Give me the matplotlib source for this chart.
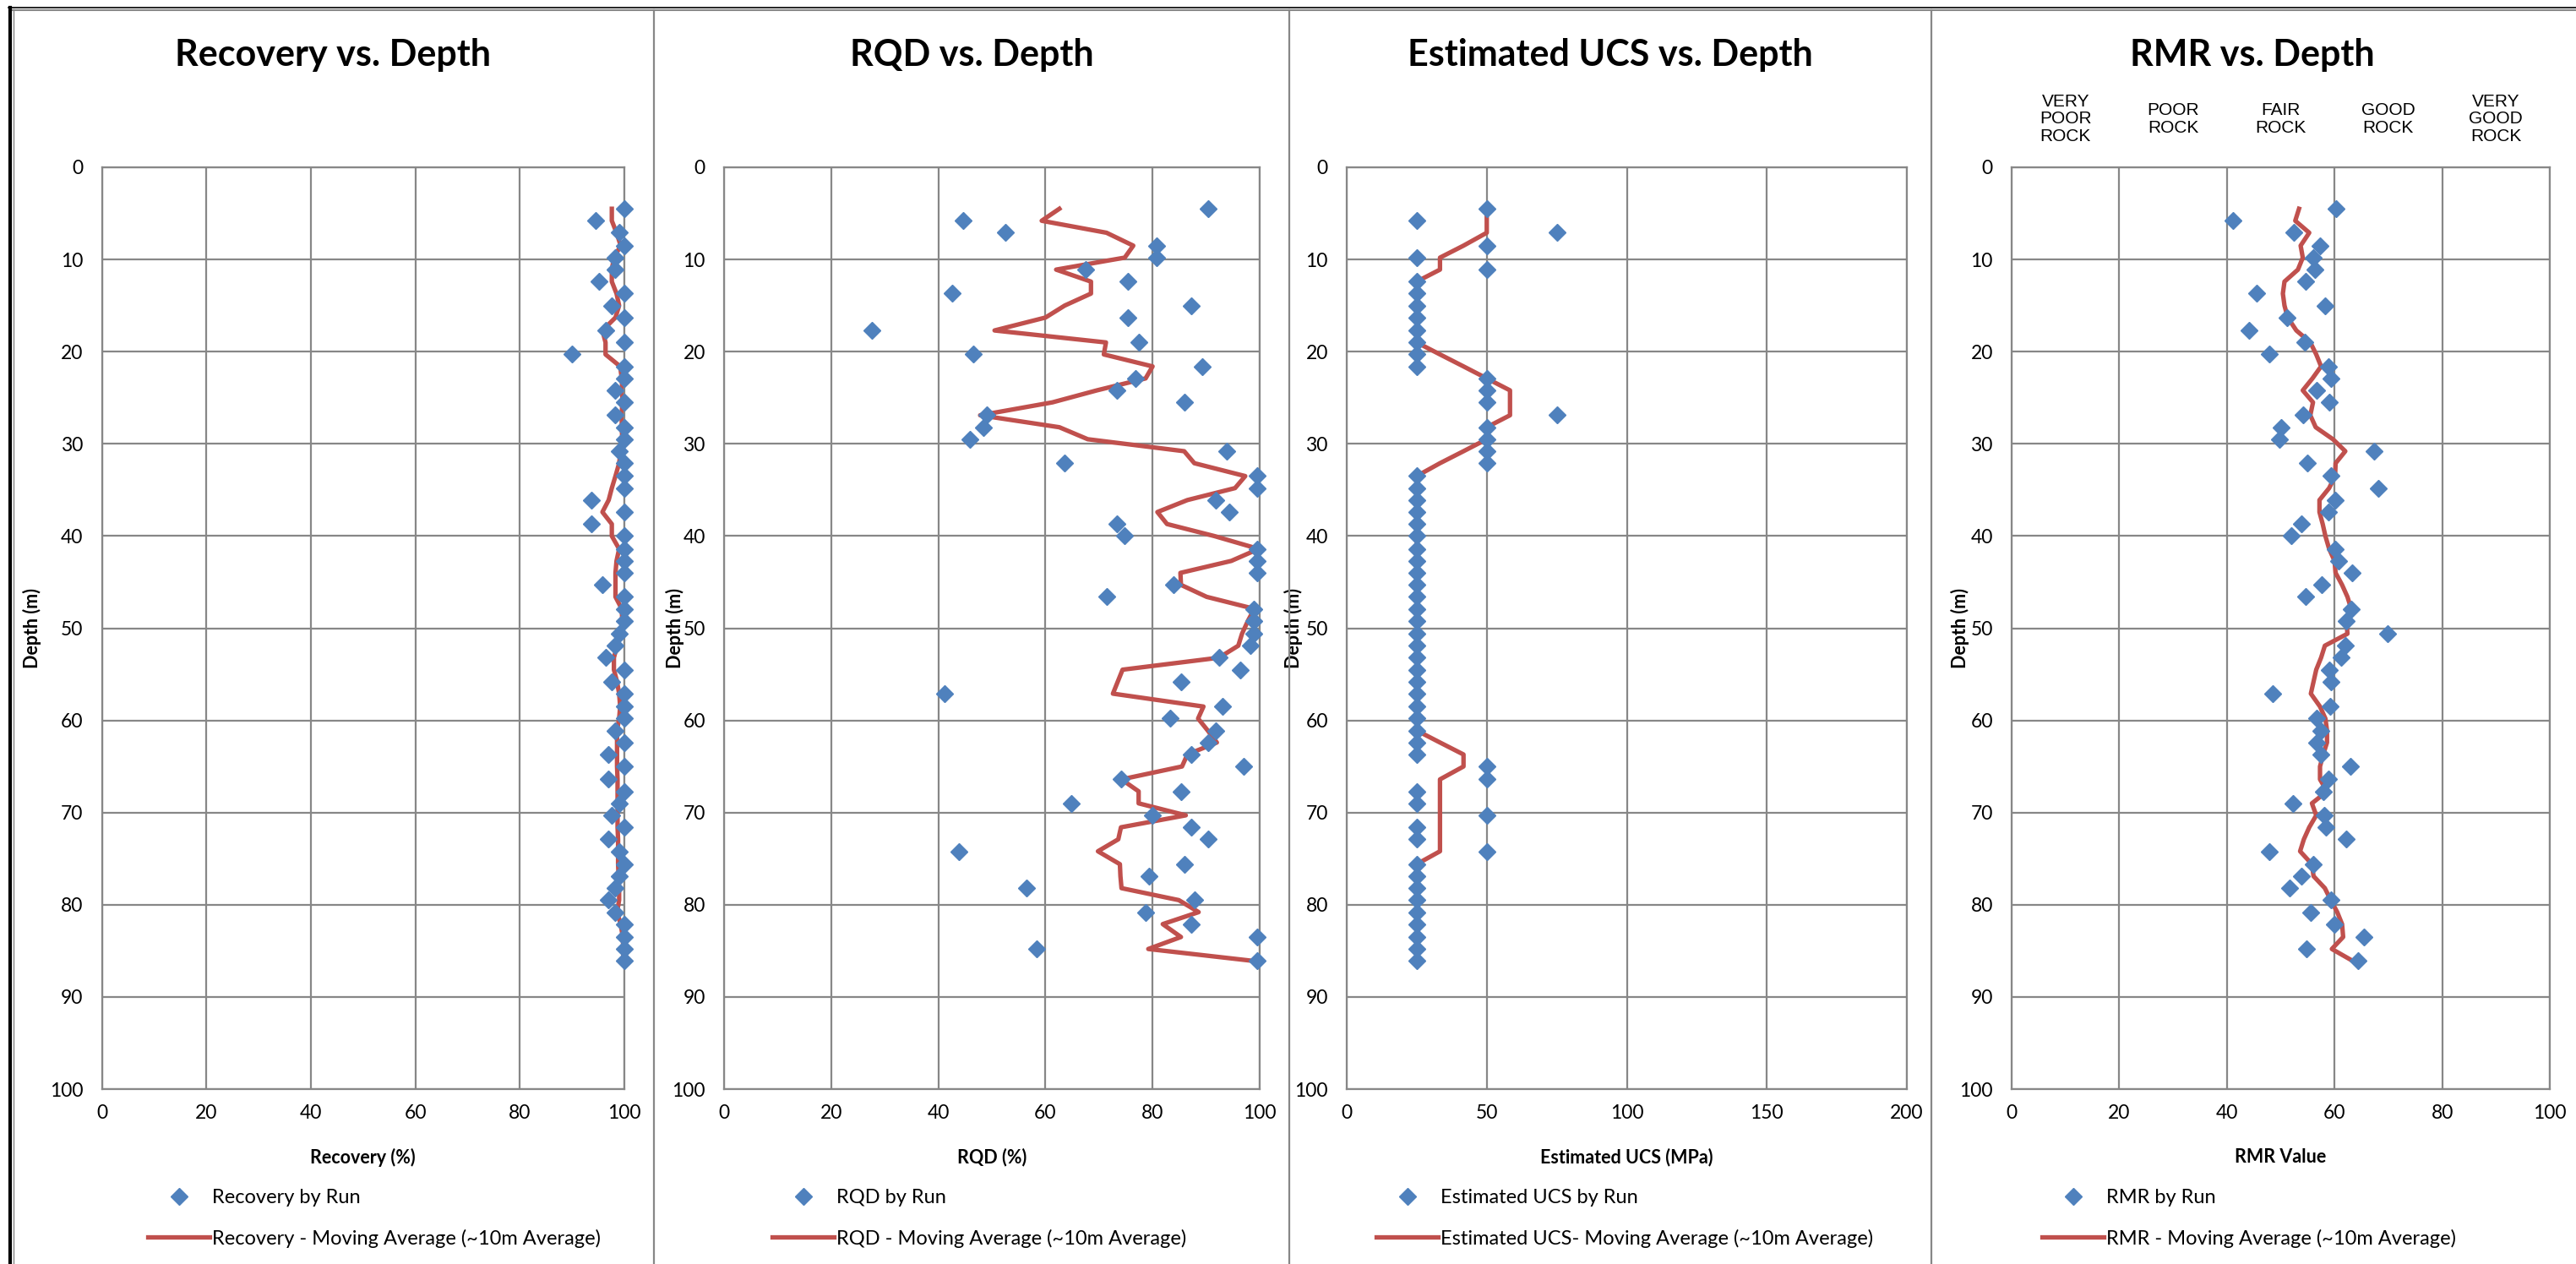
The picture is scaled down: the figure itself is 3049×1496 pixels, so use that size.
import matplotlib.pyplot as plt
from matplotlib.lines import Line2D

# depth of each core run (m)
depth = [4.5, 5.8, 7.1, 8.5, 9.8, 11.1, 12.4, 13.7, 15.0, 16.3, 17.7, 19.0, 20.3,
         21.6, 22.9, 24.2, 25.5, 26.9, 28.2, 29.5, 30.8, 32.1, 33.5, 34.8, 36.1,
         37.4, 38.7, 40.0, 41.4, 42.7, 44.0, 45.3, 46.6, 47.9, 49.2, 50.6, 51.9,
         53.2, 54.5, 55.8, 57.1, 58.5, 59.8, 61.1, 62.4, 63.7, 65.0, 66.4, 67.7,
         69.0, 70.3, 71.6, 72.9, 74.2, 75.6, 76.9, 78.2, 79.5, 80.8, 82.1, 83.5,
         84.8, 86.1]

recovery = [100, 94.5, 99, 100, 98.3, 98.3, 95.2, 100, 97.6, 100, 96.4, 100, 90,
            100, 100, 98.3, 100, 98.3, 100, 100, 99, 100, 100, 100, 93.7, 100, 93.7,
            100, 100, 100, 100, 95.8, 100, 100, 100, 99, 98.3, 96.4, 100, 97.6, 100,
            100, 100, 98.3, 100, 97, 100, 97, 100, 99, 97.6, 100, 97, 99, 100, 99,
            98.3, 97, 98.3, 100, 100, 100, 100]
recovery_ma = [97.6, 97.6, 98.5, 99.3, 98.0, 97.6, 97.6, 98.5, 99.0, 98.3, 95.8, 96.4,
               96.4, 99.2, 99.5, 99.6, 99.6, 99.5, 99.5, 99.6, 99.3, 99.0, 98.3, 97.6,
               97.0, 95.8, 97.6, 97.6, 99.0, 98.5, 98.3, 98.3, 98.3, 99.5, 99.6, 99.2,
               98.6, 98.0, 98.0, 98.6, 99.0, 99.2, 99.0, 98.6, 98.6, 98.6, 98.6, 98.7,
               98.7, 98.7, 98.7, 98.7, 98.8, 98.8, 98.8, 98.9, 99.0, 99.0, 98.6, 99.3,
               99.7, 99.8, 99.8]

rqd = [90.4, 44.6, 52.5, 80.7, 80.7, 67.5, 75.4, 42.6, 87.3, 75.4, 27.6, 77.4, 46.5,
       89.2, 76.8, 73.4, 85.9, 49.1, 48.5, 45.9, 93.8, 63.6, 99.6, 99.6, 91.8, 94.4,
       73.4, 74.8, 99.6, 99.6, 99.6, 83.9, 71.4, 98.9, 98.9, 98.9, 98.3, 92.4, 96.3,
       85.3, 41.2, 93.1, 83.3, 91.8, 90.4, 87.2, 97.0, 74.1, 85.3, 64.9, 80.0, 87.2,
       90.4, 43.9, 85.9, 79.3, 56.4, 87.8, 78.7, 87.2, 99.6, 58.3, 99.6]
rqd_ma = [62.6, 59.3, 71.4, 76.4, 74.8, 62.0, 68.5, 68.5, 63.6, 60.0, 50.5, 71.3, 70.9,
          80.0, 78.7, 69.6, 61.3, 47.8, 62.6, 67.9, 85.9, 87.8, 97.3, 95.4, 86.5, 80.9,
          82.7, 91.5, 99.8, 94.7, 85.2, 85.3, 90.1, 99.0, 97.8, 96.7, 96.0, 92.4, 74.4,
          73.5, 72.6, 89.5, 88.5, 90.3, 92.0, 86.5, 85.5, 74.2, 77.4, 77.4, 86.2, 74.1,
          73.6, 69.8, 73.9, 74.0, 74.2, 84.9, 88.6, 81.9, 85.3, 79.2, 98.9]

ucs = [50, 25, 75, 50, 25, 50, 25, 25, 25, 25, 25, 25, 25, 25, 50, 50, 50, 75, 50, 50,
       50, 50, 25, 25, 25, 25, 25, 25, 25, 25, 25, 25, 25, 25, 25, 25, 25, 25, 25, 25,
       25, 25, 25, 25, 25, 25, 50, 50, 25, 25, 50, 25, 25, 50, 25, 25, 25, 25, 25, 25,
       25, 25, 25]
ucs_ma = [50, 50, 50, 41.7, 33.3, 33.3, 25, 25, 25, 25, 25, 25, 33.3, 41.7, 50, 58.3,
          58.3, 58.3, 50, 50, 41.7, 33.3, 25, 25, 25, 25, 25, 25, 25, 25, 25, 25, 25,
          25, 25, 25, 25, 25, 25, 25, 25, 25, 25, 25, 33.3, 41.7, 41.7, 33.3, 33.3,
          33.3, 33.3, 33.3, 33.3, 33.3, 25, 25, 25, 25, 25, 25, 25, 25, 25]

rmr = [60.3, 41.2, 52.5, 57.3, 56.1, 56.3, 54.6, 45.5, 58.2, 51.2, 44.1, 54.4, 47.9,
       58.8, 59.4, 56.6, 59.1, 54.2, 50.0, 49.8, 67.3, 54.9, 59.3, 68.1, 60.2, 58.8,
       53.8, 51.9, 60.2, 60.7, 63.3, 57.6, 54.6, 63.1, 62.2, 69.8, 62.0, 61.3, 59.0,
       59.4, 48.5, 59.2, 56.7, 57.5, 56.7, 57.4, 62.9, 58.8, 58.0, 52.3, 58.1, 58.4,
       62.2, 47.9, 56.1, 53.8, 51.7, 59.3, 55.6, 59.9, 65.4, 54.8, 64.3]
rmr_ma = [53.4, 52.7, 55.3, 53.7, 54.1, 53.2, 50.7, 50.4, 50.7, 51.3, 52.9, 55.5, 56.6,
          57.5, 55.9, 54.1, 56.0, 55.5, 56.5, 59.7, 62.0, 60.2, 60.1, 59.0, 57.2, 57.2,
          57.8, 58.3, 59.0, 60.0, 60.2, 61.4, 62.4, 63.1, 62.2, 62.4, 58.2, 57.5, 56.6,
          56.1, 55.6, 57.3, 58.3, 58.6, 58.6, 57.9, 57.3, 57.3, 58.6, 55.8, 56.6, 55.3,
          54.3, 53.6, 55.8, 56.1, 58.2, 59.3, 60.5, 61.4, 61.6, 59.5, 63.4]

rock_classes = ['VERY\nPOOR\nROCK', 'POOR\nROCK', 'FAIR\nROCK', 'GOOD\nROCK', 'VERY\nGOOD\nROCK']
rock_centres = [10, 30, 50, 70, 90]

plt.rcParams['font.family'] = ['Lato', 'DejaVu Sans']

W, H = 3049, 1496
BLUE = '#4F81BD'
RED = '#C0504D'
GREY = '#878787'

fig = plt.figure(figsize=(W / 100, H / 100), dpi=100)

# title, x label, points, moving avg, x max, x step, plot left/right (px),
# panel centre (px), legend left (px), legend labels
panels = [
    ('Recovery vs. Depth', 'Recovery (%)', recovery, recovery_ma, 100, 20, 120.5, 739, 394, 175,
     'Recovery by Run', 'Recovery - Moving Average (~10m Average)'),
    ('RQD vs. Depth', 'RQD (%)', rqd, rqd_ma, 100, 20, 857, 1491, 1150, 914,
     'RQD by Run', 'RQD - Moving Average (~10m Average)'),
    ('Estimated UCS vs. Depth', 'Estimated UCS (MPa)', ucs, ucs_ma, 200, 50, 1594, 2257, 1906, 1629,
     'Estimated UCS by Run', 'Estimated UCS- Moving Average (~10m Average)'),
    ('RMR vs. Depth', 'RMR Value', rmr, rmr_ma, 100, 20, 2381, 3018, 2666, 2417,
     'RMR by Run', 'RMR - Moving Average (~10m Average)'),
]
ylabel_x = [49, 810, 1542, 2331]

top, bottom = 198, 1289
for i, (title, xlabel, pts, ma, xmax, step, l, r, cx, lx, lab1, lab2) in enumerate(panels):
    ax = fig.add_axes([l / W, 1 - bottom / H, (r - l) / W, (bottom - top) / H])
    line, = ax.plot(ma, depth[:len(ma)], color=RED, lw=3.8, zorder=2)
    mk, = ax.plot(pts, depth, ls='none', marker='D', ms=10.5, color=BLUE,
                  zorder=3, clip_on=False)
    ax.set_xlim(0, xmax)
    ax.set_ylim(100, 0)
    ax.set_xticks(range(0, xmax + 1, step))
    ax.set_yticks(range(0, 101, 10))
    ax.grid(True, color=GREY, lw=1.6)
    ax.set_axisbelow(True)
    for s in ax.spines.values():
        s.set_color(GREY)
        s.set_linewidth(1.6)
    ax.tick_params(length=0, labelsize=16.5)
    ax.tick_params(axis='y', pad=16)
    ax.tick_params(axis='x', pad=13)
    ax.set_xlabel(xlabel, fontsize=15.5, fontweight='bold', labelpad=22)
    ax.set_ylabel('Depth (m)', fontsize=15.5, fontweight='bold')
    ax.yaxis.set_label_coords((ylabel_x[i] - l) / (r - l), 0.5)

    fig.text(cx / W, 1 - 65 / H, title, fontsize=31, fontweight='bold',
             ha='center', va='center')

    ax.legend([mk, line], [lab1, lab2], loc='upper left',
              bbox_to_anchor=(lx / W, 1 - 1407 / H), bbox_transform=fig.transFigure,
              frameon=False, fontsize=17, handlelength=3.1, handletextpad=0.1,
              labelspacing=1.12, borderpad=0, borderaxespad=0)

    if i == 3:
        for x, txt in zip(rock_centres, rock_classes):
            ax.text(x, (bottom - 141) / (bottom - top), txt,
                    transform=ax.get_xaxis_transform(), ha='center', va='center',
                    multialignment='center', fontsize=15,
                    family='Liberation Sans', linespacing=1.1)

# outer frame and panel separators
fig.add_artist(Line2D([10 / W, 1], [1 - 9 / H] * 2, color='black', lw=1.2))
fig.add_artist(Line2D([14 / W, 1], [1 - 11.5 / H] * 2, color=GREY, lw=1.5))
fig.add_artist(Line2D([12 / W] * 2, [0, 1 - 9 / H], color='black', lw=3))
fig.add_artist(Line2D([16 / W] * 2, [0, 1 - 11 / H], color=GREY, lw=1))
for x in [774, 1526, 2286]:
    fig.add_artist(Line2D([x / W] * 2, [0, 1 - 12 / H], color=GREY, lw=1.6))

fig.savefig('out.png', dpi=100)
